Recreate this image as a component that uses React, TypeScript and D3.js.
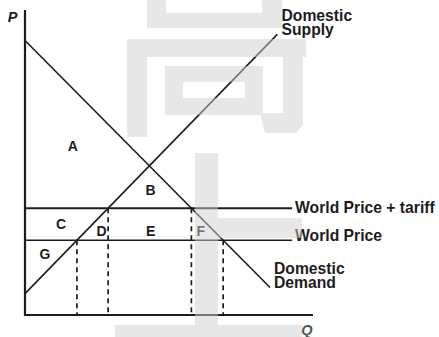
import React from 'react';
import * as d3 from 'd3';

const W = 439;
const H = 337;

// curve end points in (quantity, price) units
const demandPts = [{ q: 0, p: 90 }, { q: 84.5, p: 9 }];
const supplyPts = [{ q: 0, p: 7 }, { q: 87, p: 92 }];
const priceKeys = ['World Price + tariff', 'World Price'];
const priceVals = [35, 24.5];
const areaNames = ['A', 'B', 'C', 'D', 'E', 'F', 'G'];
const areaQ = [16.5, 43.3, 12.4, 26.4, 43.3, 60.6, 6.9];
const areaP = [53.8, 39.3, 28.2, 25.9, 25.9, 25.9, 18.4];

// background watermark (pixel boxes)
const markBoxes = [
  [147, 0, 19, 28], [262, 0, 20, 28], [147, 12.7, 135, 15.3],
  [127, 39, 179, 18], [127, 39, 20, 98], [283, 39, 20, 86],
  [165, 66, 18, 49], [245, 66, 18, 49], [165, 66, 98, 16], [165, 98, 98, 17],
  [195, 153, 23, 184], [218, 218, 84, 20], [115, 325, 187, 12],
];

const x = d3.scaleLinear().domain([0, 100]).range([25, 315]);
const y = d3.scaleLinear().domain([0, 100]).range([315, 10]);

const qAt = (pts: { q: number; p: number }[], p: number) =>
  pts[0].q + ((p - pts[0].p) * (pts[1].q - pts[0].q)) / (pts[1].p - pts[0].p);

const font = '"Liberation Sans", Arial, sans-serif';
const ink = '#1c1c1c';

export default function App() {
  const line = d3.line<{ q: number; p: number }>().x(d => x(d.q)).y(d => y(d.p));
  const priceEnd = 92.1;

  const drops: number[] = [];
  priceVals.forEach(p => {
    drops.push(qAt(supplyPts, p));
    drops.push(qAt(demandPts, p));
  });

  const markPath =
    markBoxes.map(b => `M${b[0]},${b[1]}h${b[2]}v${b[3]}h${-b[2]}Z`).join('') +
    'M260,113H283V125H303L296,133H265Z';

  return (
    <svg width={W} height={H} style={{ position: 'absolute', left: 0, top: 0, background: '#fff' }}
      fontFamily={font}>
      {/* axes */}
      <line x1={x(0)} x2={x(0)} y1={y(100)} y2={y(0) + 1} stroke={ink} strokeWidth={2.2} />
      <line x1={x(0) - 1} x2={x(99.3)} y1={y(0)} y2={y(0)} stroke={ink} strokeWidth={2.2} />

      {/* dashed drops */}
      {drops.map((q, i) => {
        const p = priceVals[Math.floor(i / 2)];
        return (
          <line key={i} x1={x(q)} x2={x(q)} y1={y(p)} y2={y(0)} stroke={ink}
            strokeWidth={1.7} strokeDasharray="5,4" />
        );
      })}

      {/* price lines */}
      {priceVals.map((p, i) => (
        <g key={priceKeys[i]}>
          <line x1={x(0)} x2={x(priceEnd)} y1={y(p)} y2={y(p)} stroke={ink}
            strokeWidth={i === 0 ? 2 : 1.5} />
          <text x={x(priceEnd) + 3} y={y(p) + (i === 0 ? 5 : 1)} fontSize={15.7} fontWeight="bold" fill={ink}>
            {priceKeys[i]}
          </text>
        </g>
      ))}

      {/* supply & demand */}
      <path d={line(demandPts) || ''} fill="none" stroke={ink} strokeWidth={1.6} />
      <path d={line(supplyPts) || ''} fill="none" stroke={ink} strokeWidth={1.6} />

      <text fontSize={15.7} fontWeight="bold" fill={ink}>
        <tspan x={281.5} y={21}>Domestic</tspan>
        <tspan x={281.5} y={35}>Supply</tspan>
      </text>
      <text fontSize={15.7} fontWeight="bold" fill={ink}>
        <tspan x={274} y={274}>Domestic</tspan>
        <tspan x={274} y={288}>Demand</tspan>
      </text>

      {/* area letters */}
      {areaNames.map((n, i) => (
        <text key={n} x={x(areaQ[i])} y={y(areaP[i])} textAnchor="middle" fontSize={14}
          fontWeight="bold" fill={ink}>{n}</text>
      ))}

      {/* axis titles */}
      <text x={12.5} y={21.5} textAnchor="middle" fontSize={14.5} fontWeight="bold" fontStyle="italic" fill={ink}>P</text>
      <text x={307} y={335} textAnchor="middle" fontSize={14.5} fontWeight="bold" fontStyle="italic" fill="#555">Q</text>

      {/* watermark overlay */}
      <path d={markPath} fill="#cfcfcf" opacity={0.5} />
    </svg>
  );
}
